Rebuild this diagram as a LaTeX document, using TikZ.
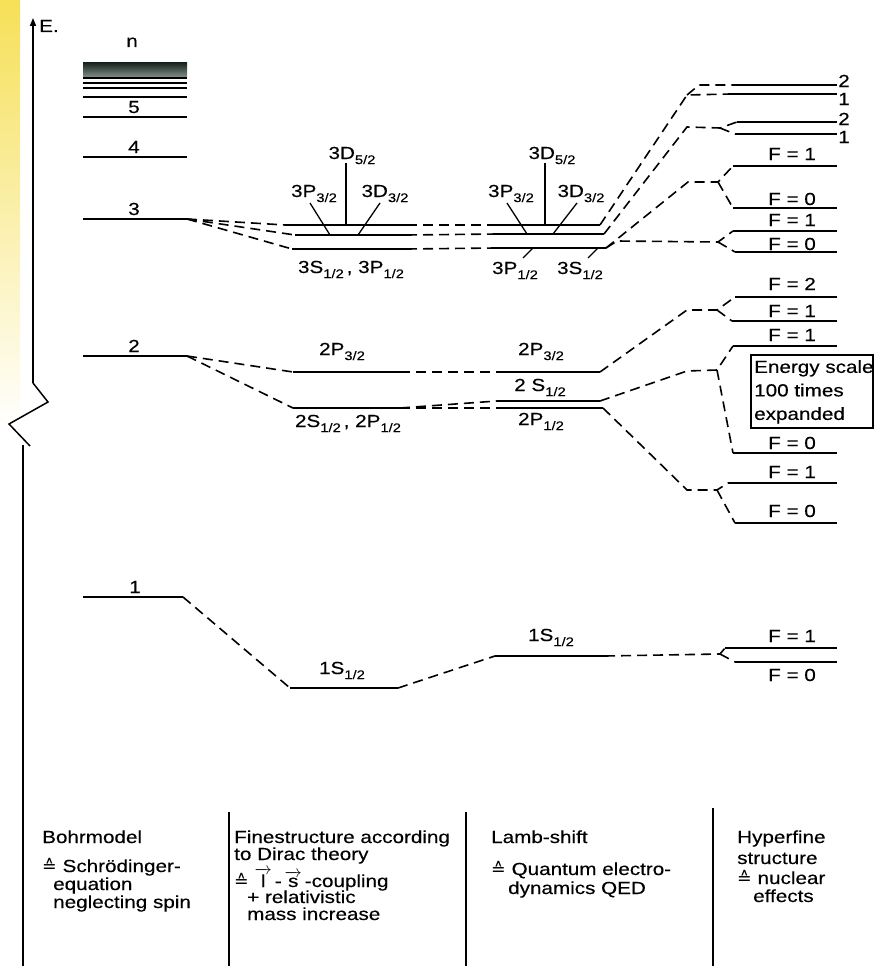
\documentclass[tikz,border=0pt]{standalone}
\usepackage{fontspec}
\setmainfont[FakeStretch=1.18, FakeBold=0.3]{Liberation Sans}
\newfontfamily\symfont{DejaVu Sans}
\usepackage{amsmath}
\usetikzlibrary{arrows.meta, positioning}

\definecolor{scanyellow}{RGB}{246,224,88}
\definecolor{bandtop}{RGB}{26,38,32}
\definecolor{bandbot}{RGB}{120,136,128}

\newcommand{\lsub}[1]{\raisebox{-0.55ex}{\fontsize{12.5}{12.5}\selectfont #1}}
\newcommand{\corr}{{\symfont ≙}}

\begin{document}
\begin{tikzpicture}[
    x=1pt, y=-1pt,
    level/.style={line width=1.8pt},
    link/.style={line width=1.6pt, dash pattern=on 10pt off 6pt},
    tick/.style={line width=1.3pt},
    lab/.style={font=\fontsize{17.5}{17.5}\selectfont, anchor=base, inner sep=0pt},
    txt/.style={font=\fontsize{17.5}{17.5}\selectfont, anchor=base west, inner sep=0pt},
    sep/.style={line width=1.4pt},
    >={Triangle[length=8pt, width=6pt]}
]
    \useasboundingbox (0,0) rectangle (875,966);
    % yellow page edge of the scan
    \shade[top color=scanyellow, bottom color=white] (0,0) rectangle (20,430);

    % Energy axis with break
    \coordinate (axtop) at (33,18);
    \coordinate (axbrk) at (33,383);
    \coordinate (axlow) at (23,445);
    \coordinate (axend) at (23,966);
    \draw[line width=1.5pt, ->] (axbrk) -- (axtop);
    \draw[line width=1.5pt] (axbrk) -- (48,402) -- (9,424) -- (30,446);
    \draw[line width=1.5pt] (axlow) -- (axend);
    \node[lab, anchor=base west] (elab) at (39,32) {E.};

    % Column 1: Bohr model
    \node[lab] (nlab) at (132,47) {n};
    \shade[top color=bandtop, bottom color=bandbot] (83,63) rectangle (187,76);
    \foreach \y/\w in {78/1.9pt, 83/1.3pt, 88/1.3pt, 97/1.6pt}
        \draw[line width=\w] (83,\y) -- (187,\y);
    \foreach \n/\y in {5/117, 4/157, 3/219, 2/356} {
        \coordinate (bohr\n) at (187,\y);
        \draw[level] (83,\y) -- (bohr\n);
        \node[lab] (blab\n) at (134,\y-4) {\n};
    }
    \coordinate (bohr1) at (183,597);
    \draw[level] (83,597) -- (bohr1);
    \node[lab] (blab1) at (135,593) {1};

    % Column 2: fine structure
    \coordinate (fD5w) at (285,225); \coordinate (fD5) at (407,225);
    \coordinate (fP3w) at (295,235); \coordinate (fP3) at (407,235);
    \coordinate (fS3w) at (292,249); \coordinate (fS3) at (407,249);
    \coordinate (fP2w) at (293,372); \coordinate (fP2) at (400,372);
    \coordinate (fS2w) at (293,408); \coordinate (fS2) at (400,408);
    \coordinate (fS1w) at (290,688); \coordinate (fS1) at (398,688);
    \foreach \lv in {D5,P3,S3,P2,S2,S1}
        \draw[level] (f\lv w) -- (f\lv);
    \node[lab] (fD5lab) at (352,159) {3D\lsub{5/2}};
    \node[lab] (fP3lab) at (314,197) {3P\lsub{3/2}};
    \node[lab] (fD3lab) at (385,197) {3D\lsub{3/2}};
    \node[lab] (fS3lab) at (351,273) {3S\lsub{1/2}\,, 3P\lsub{1/2}};
    \draw[tick] (346,163) -- (346,225);
    \draw[tick] (310,203) -- (330,235);
    \draw[tick] (380,203) -- (358,235);
    \node[lab] (fP2lab) at (342,355) {2P\lsub{3/2}};
    \node[lab] (fS2lab) at (348,427) {2S\lsub{1/2}\,, 2P\lsub{1/2}};
    \node[lab] (fS1lab) at (342,674) {1S\lsub{1/2}};

    % Column 3: Lamb shift
    \coordinate (lD5w) at (497,225); \coordinate (lD5) at (600,225);
    \coordinate (lP3w) at (497,234); \coordinate (lP3) at (604,234);
    \coordinate (lS3w) at (495,248); \coordinate (lS3) at (606,248);
    \coordinate (lP2w) at (497,372); \coordinate (lP2) at (600,372);
    \coordinate (lS2w) at (497,401); \coordinate (lS2) at (600,401);
    \coordinate (lQ2w) at (497,408); \coordinate (lQ2) at (603,408);
    \coordinate (lS1w) at (495,656); \coordinate (lS1) at (605,656);
    \foreach \lv in {D5,P3,S3,P2,S2,Q2,S1}
        \draw[level] (l\lv w) -- (l\lv);
    \node[lab] (lD5lab) at (552,159) {3D\lsub{5/2}};
    \node[lab] (lP3lab) at (511,197) {3P\lsub{3/2}};
    \node[lab] (lD3lab) at (581,197) {3D\lsub{3/2}};
    \node[lab] (lP1lab) at (515,274) {3P\lsub{1/2}};
    \node[lab] (lS1lab3) at (580,274) {3S\lsub{1/2}};
    \draw[tick] (545,163) -- (545,225);
    \draw[tick] (507,203) -- (527,234);
    \draw[tick] (577,203) -- (553,234);
    \draw[tick] (523,258) -- (533,248);
    \draw[tick] (588,258) -- (598,248);
    \node[lab] (lP2lab) at (541,355) {2P\lsub{3/2}};
    \node[lab] (lS2lab) at (540,391) {2 S\lsub{1/2}};
    \node[lab] (lQ2lab) at (541,425) {2P\lsub{1/2}};
    \node[lab] (lS1lab) at (551,641) {1S\lsub{1/2}};

    % Column 4: hyperfine structure
    \foreach \nm/\xa/\y in {hA2/735/85, hA1/730/94, hB2/737/122, hB1/735/134,
        hC1/733/166, hC0/733/208, hD1/733/231, hD0/735/252,
        hE2/735/297, hE1/732/321, hF1/733/346, hF0/733/453,
        hG1/728/483, hG0/735/523, hH1/725/648, hH0/735/662} {
        \coordinate (\nm) at (\xa,\y);
        \draw[level] (\nm) -- (837,\y);
    }
    \node[lab] (tA2) at (844,87) {2};
    \node[lab] (tA1) at (844,105) {1};
    \node[lab] (tB2) at (844,125) {2};
    \node[lab] (tB1) at (844,143) {1};
    \foreach \nm/\y/\f in {tC1/160/1, tC0/205/0, tD1/226/1, tD0/250/0,
        tE2/290/2, tE1/317/1, tF1/341/1, tF0/449/0, tG1/478/1, tG0/517/0,
        tH1/642/1, tH0/681/0}
        \node[lab] (\nm) at (792,\y) {F = \f};
    \coordinate (boxnw) at (751,355);
    \coordinate (boxse) at (873,428);
    \draw[line width=1.3pt] (boxnw) rectangle (boxse);
    \node[anchor=north west, inner sep=0pt, align=left,
        font=\fontsize{17.5}{23.5}\selectfont]
        (scale) at (754,360) {Energy scale\\100 times\\expanded};

    % Connectors n = 3
    \draw[link] (bohr3) -- (fD5w);
    \draw[link] (bohr3) -- (fP3w);
    \draw[link] (bohr3) -- (fS3w);
    \draw[link] (fD5) -- (lD5w);
    \draw[link] (fP3) -- (lP3w);
    \draw[link] (fS3) -- (lS3w);
    \coordinate (kA) at (687,95);
    \draw[link] (lD5) -- (kA) -- (hA1);
    \draw[link] (kA) -- (699,85) -- (hA2);
    \coordinate (kB) at (720,128);
    \draw[link] (lP3) -- (687,127) -- (kB) -- (hB2);
    \draw[link] (kB) -- (hB1);
    \coordinate (kC) at (718,182);
    \draw[link] (lS3) -- (688,182) -- (kC) -- (hC1);
    \draw[link] (kC) -- (hC0);
    \coordinate (kD) at (718,242);
    \draw[link] (lS3) -- (617,241) -- (kD) -- (hD1);
    \draw[link] (kD) -- (hD0);

    % Connectors n = 2
    \draw[link] (bohr2) -- (fP2w);
    \draw[link] (bohr2) -- (fS2w);
    \draw[link] (fP2) -- (lP2w);
    \draw[link] (fS2) -- (lS2w);
    \draw[link] (fS2) -- (lQ2w);
    \coordinate (kE) at (717,310);
    \draw[link] (lP2) -- (687,310) -- (kE) -- (hE2);
    \draw[link] (kE) -- (hE1);
    \coordinate (kF) at (717,370);
    \draw[link] (lS2) -- (687,371) -- (kF) -- (hF1);
    \draw[link] (kF) -- (hF0);
    \coordinate (kG) at (717,490);
    \draw[link] (lQ2) -- (687,490) -- (kG) -- (hG1);
    \draw[link] (kG) -- (hG0);

    % Connectors n = 1
    \draw[link] (bohr1) -- (fS1w);
    \draw[link] (fS1) -- (lS1w);
    \coordinate (kH) at (720,654);
    \draw[link] (lS1) -- (kH) -- (hH1);
    \draw[link] (kH) -- (hH0);

    % Column captions
    \draw[sep] (229,812) -- (229,966);
    \draw[sep] (466,812) -- (466,966);
    \draw[sep] (713,808) -- (713,966);
    \node[txt] (c1a) at (42,843) {Bohrmodel};
    \node[txt] (c1b) at (42,872) {\corr\ Schrödinger-};
    \node[txt] (c1c) at (53,890) {equation};
    \node[txt] (c1d) at (53,908) {neglecting spin};
    \node[txt] (c2a) at (234,843) {Finestructure according};
    \node[txt] (c2b) at (234,860) {to Dirac theory};
    \node[txt] (c2c) at (234,887) {\corr\ $\overrightarrow{\text{l}}$\,-\,$\overrightarrow{\text{s}}$\,-coupling};
    \node[txt] (c2d) at (247,903) {+ relativistic};
    \node[txt] (c2e) at (247,920) {mass increase};
    \node[txt] (c3a) at (491,843) {Lamb-shift};
    \node[txt] (c3b) at (491,875) {\corr\ Quantum electro-};
    \node[txt] (c3c) at (508,894) {dynamics QED};
    \node[txt] (c4a) at (737,843) {Hyperfine};
    \node[txt] (c4b) at (737,864) {structure};
    \node[txt] (c4c) at (737,884) {\corr\ nuclear};
    \node[txt] (c4d) at (753,902) {effects};
\end{tikzpicture}
\end{document}
